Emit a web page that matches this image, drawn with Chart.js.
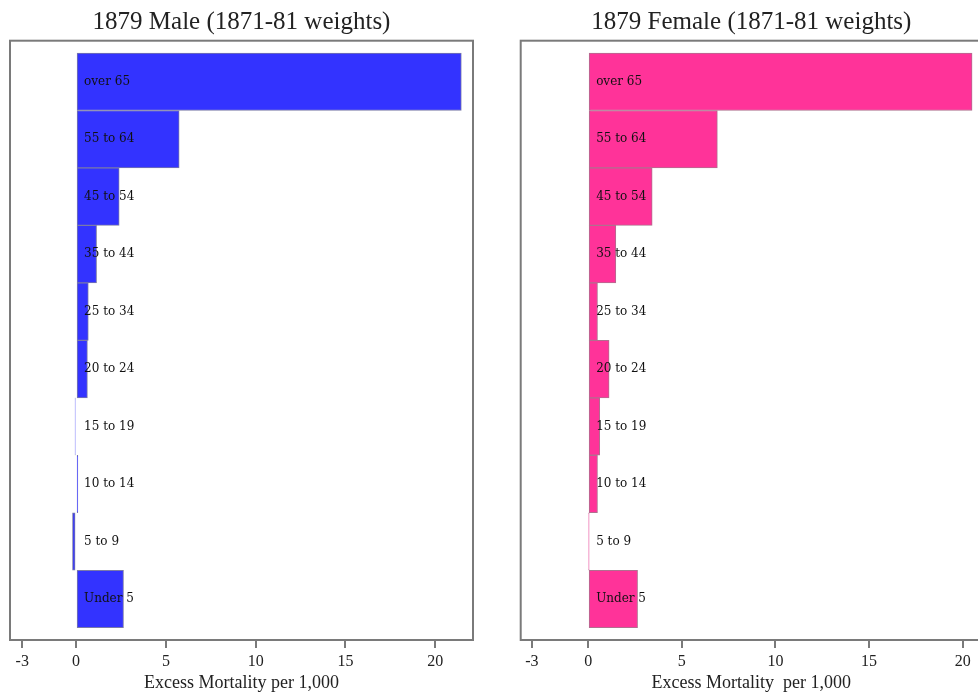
<!DOCTYPE html>
<html>
<head>
<meta charset="utf-8">
<script src="https://cdn.jsdelivr.net/npm/chart.js@4.4.0/dist/chart.umd.min.js"></script>
<style>
html,body{margin:0;padding:0;background:#fff;overflow:hidden;width:978px;height:697px;}
.panel{position:absolute;top:0;height:697px;}
#p1{left:0;width:489px;}
#p2{left:489px;width:520px;}
</style>
</head>
<body>
<div class="panel" id="p1"><canvas id="c1" width="489" height="697"></canvas></div>
<div class="panel" id="p2"><canvas id="c2" width="520" height="697"></canvas></div>
<script>
// Age groups, bottom to top
const categories = ['Under 5','5 to 9','10 to 14','15 to 19','20 to 24','25 to 34','35 to 44','45 to 54','55 to 64','over 65'];
const maleValues   = [2.64, -0.2, 0.1, -0.05, 0.63, 0.68, 1.14, 2.40, 5.74, 21.45];
const femaleValues = [2.64, 0.03, 0.5, 0.62, 1.12, 0.50, 1.48, 3.42, 6.90, 20.50];
const tickValues = [-3, 0, 5, 10, 15, 20];
const maleTitle = '1879 Male (1871-81 weights)';
const femaleTitle = '1879 Female (1871-81 weights)';
const maleAxisTitle = 'Excess Mortality per 1,000';
const femaleAxisTitle = 'Excess Mortality  per 1,000';

const GRAY = '#7a7a7a';

const framePlugin = {
  id: 'frame',
  beforeDatasetsDraw(chart) {
    const a = chart.chartArea, ctx = chart.ctx;
    ctx.save();
    ctx.strokeStyle = GRAY;
    ctx.lineWidth = 2;
    ctx.strokeRect(a.left, a.top, a.right - a.left, a.bottom - a.top);
    ctx.restore();
  },
  afterDatasetsDraw(chart) {
    const ctx = chart.ctx, xs = chart.scales.x, ys = chart.scales.y;
    ctx.save();
    ctx.font = '12px "DejaVu Serif"';
    ctx.fillStyle = '#111';
    ctx.textBaseline = 'middle';
    ctx.textAlign = 'left';
    const x0 = xs.getPixelForValue(0) + 8;
    categories.forEach((c, i) => ctx.fillText(c, x0, ys.getPixelForValue(i)));
    ctx.restore();
  }
};

function makeChart(id, values, color, border, title, axisTitle, xmin, xmax, padLeft, padRight) {
  return new Chart(document.getElementById(id), {
    type: 'bar',
    data: {
      datasets: [{
        data: values.map((v, i) => ({x: v, y: i})),
        backgroundColor: color,
        borderColor: border,
        borderWidth: 1,
        borderSkipped: false,
        barPercentage: 1,
        categoryPercentage: 1
      }]
    },
    options: {
      indexAxis: 'y',
      responsive: false,
      animation: false,
      devicePixelRatio: 1,
      layout: {padding: {left: padLeft, right: padRight, top: 0, bottom: 0}},
      plugins: {
        legend: {display: false},
        tooltip: {enabled: false},
        title: {
          display: true,
          text: title,
          color: '#222',
          font: {family: '"Liberation Serif"', size: 25, weight: 'normal', lineHeight: 1.2},
          padding: {top: 7, bottom: 3.7}
        }
      },
      scales: {
        y: {
          type: 'linear',
          display: false,
          offset: false,
          grid: {offset: false},
          min: -0.714,
          max: 9.714,
          afterBuildTicks: s => { s.ticks = categories.map((c, i) => ({value: i})); }
        },
        x: {
          type: 'linear',
          min: xmin,
          max: xmax,
          afterBuildTicks: s => { s.ticks = tickValues.map(v => ({value: v})); },
          afterFit: s => { s.height = 57; },
          grid: {drawOnChartArea: false, drawTicks: true, tickLength: 8, color: GRAY, lineWidth: 2},
          border: {display: true, color: GRAY, width: 2},
          ticks: {
            color: '#222',
            padding: 4,
            font: {family: '"Liberation Serif"', size: 16},
            callback: v => String(v)
          },
          title: {
            display: true,
            text: axisTitle,
            color: '#222',
            font: {family: '"Liberation Serif"', size: 18, lineHeight: 1.2},
            padding: {top: 0, bottom: 3}
          }
        }
      }
    },
    plugins: [framePlugin]
  });
}

makeChart('c1', maleValues, '#3333ff', '#7a7aa8', maleTitle, maleAxisTitle, -3.68, 22.1, 10, 16);
makeChart('c2', femaleValues, '#ff3399', '#b0708f', femaleTitle, femaleAxisTitle, -3.6, 21.03, 31.7, 27);
</script>
</body>
</html>
